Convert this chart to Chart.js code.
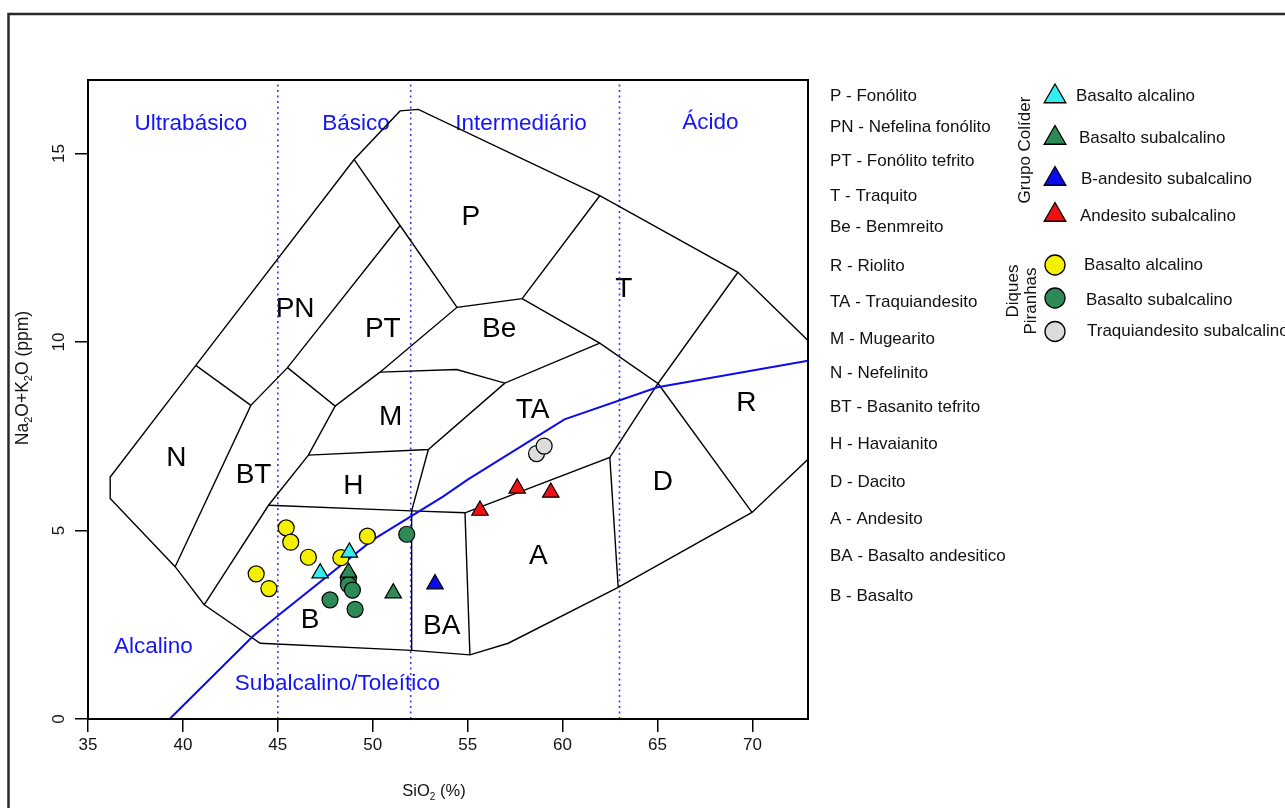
<!DOCTYPE html>
<html>
<head>
<meta charset="utf-8">
<script src="https://cdn.jsdelivr.net/npm/chart.js@4.4.0/dist/chart.umd.min.js"></script>
<style>
  html, body { margin: 0; padding: 0; background: #fff; }
  #wrap { position: relative; width: 1285px; height: 808px; overflow: hidden; }
</style>
</head>
<body>
<div id="wrap"><canvas id="tas"></canvas></div>
<script>
const FONT = '"Liberation Sans", Arial, Helvetica, sans-serif';

// axis ticks
const xTickValues = [35, 40, 45, 50, 55, 60, 65, 70];
const yTickValues = [0, 5, 10, 15];

// silica classes (dotted limits at 45, 52, 63 % SiO2)
const silicaLimits = [45, 52, 63];
const silicaClasses = ['Ultrabásico', 'Básico', 'Intermediário', 'Ácido'];

// rock fields (Cox et al.) - abbreviation, name
const fieldCodes = ['P', 'PN', 'PT', 'T', 'Be', 'R', 'TA', 'M', 'N', 'BT', 'H', 'D', 'A', 'BA', 'B'];
const fieldNames = ['Fonólito', 'Nefelina fonólito', 'Fonólito tefrito', 'Traquito', 'Benmreito', 'Riolito',
  'Traquiandesito', 'Mugearito', 'Nefelinito', 'Basanito tefrito', 'Havaianito', 'Dacito', 'Andesito',
  'Basalto andesitico', 'Basalto'];

// field boundaries, [SiO2, Na2O+K2O] vertices
const fieldLines = [
  [[40.68, 9.38], [36.17, 6.42], [36.17, 5.85], [39.59, 4.04], [41.12, 3.03], [44.07, 2.01], [52.05, 1.82],
   [55.12, 1.70], [57.14, 2.01], [62.93, 3.49], [69.98, 5.48], [72.93, 6.89]],
  [[40.68, 9.38], [49.02, 14.84], [51.44, 16.13], [52.40, 16.17], [61.96, 13.88], [69.24, 11.85], [72.93, 10.04]],
  [[49.02, 14.84], [51.44, 13.09], [54.44, 10.92]],
  [[51.44, 13.09], [45.51, 9.32], [43.58, 8.32], [39.59, 4.04]],
  [[40.68, 9.38], [43.58, 8.32]],
  [[45.51, 9.32], [48.02, 8.30], [50.38, 9.20], [54.44, 10.92], [57.87, 11.15], [61.96, 13.88]],
  [[57.87, 11.15], [61.96, 9.97], [65.03, 8.90], [69.24, 11.85]],
  [[50.38, 9.20], [54.42, 9.27], [56.96, 8.91], [61.96, 9.97]],
  [[48.02, 8.30], [46.61, 7.00], [44.51, 5.67], [41.12, 3.03]],
  [[46.61, 7.00], [52.93, 7.15], [56.96, 8.91]],
  [[52.93, 7.15], [52.05, 5.52], [52.05, 1.82]],
  [[44.51, 5.67], [52.05, 5.52], [54.86, 5.47], [55.12, 1.70]],
  [[54.86, 5.47], [62.49, 6.94], [65.03, 8.90]],
  [[62.49, 6.94], [62.93, 3.49]],
  [[65.03, 8.90], [69.98, 5.48]]
];

// alkaline / subalkaline divide
const alkalineLine = [[39.3, 0], [43.7, 2.2], [45.1, 2.78], [50, 4.75], [53.7, 5.9], [55, 6.35],
  [60.1, 7.95], [65, 8.8], [72.93, 9.5]];

// samples [SiO2, Na2O+K2O]
const colAlcalino = [[47.23, 3.87], [48.77, 4.42]];
const colSubalcalino = [[48.72, 3.89], [51.08, 3.34]];
const colBAndesito = [[53.28, 3.58]];
const colAndesito = [[55.65, 5.53], [57.61, 6.12], [59.38, 6.01]];
const dqAlcalino = [[43.86, 3.85], [44.53, 3.46], [45.44, 5.07], [45.68, 4.69], [46.61, 4.29], [48.32, 4.28], [49.72, 4.85]];
const dqSubalcalino = [[51.79, 4.90], [48.72, 3.73], [48.72, 3.56], [48.93, 3.42], [47.75, 3.16], [49.07, 2.91]];
const dqTraquiandesito = [[58.63, 7.04], [59.03, 7.24]];

const xMax = 72.93, yMax = 16.95;

const toXY = arr => arr.map(p => ({ x: p[0], y: p[1] }));

const groups = [
  { title: 'Grupo Colíder', items: [
    { label: 'Basalto alcalino', data: colAlcalino, shape: 'triangle', color: '#33eeee' },
    { label: 'Basalto subalcalino', data: colSubalcalino, shape: 'triangle', color: '#2e8b57' },
    { label: 'B-andesito subalcalino', data: colBAndesito, shape: 'triangle', color: '#0a0aee' },
    { label: 'Andesito subalcalino', data: colAndesito, shape: 'triangle', color: '#ee1111' }
  ]},
  { title: 'Diques Piranhas', items: [
    { label: 'Basalto alcalino', data: dqAlcalino, shape: 'circle', color: '#f5f000' },
    { label: 'Basalto subalcalino', data: dqSubalcalino, shape: 'circle', color: '#2e8b57' },
    { label: 'Traquiandesito subalcalino', data: dqTraquiandesito, shape: 'circle', color: '#dcdcdc' }
  ]}
];

const datasets = [];
groups.forEach(g => g.items.forEach(it => {
  datasets.push({
    data: toXY(it.data),
    showLine: false,
    pointStyle: it.shape,
    pointRadius: it.shape === 'triangle' ? 9.5 : 8,
    pointBackgroundColor: it.color,
    pointBorderColor: '#000',
    pointBorderWidth: 1.2,
    order: 0
  });
}));
fieldLines.forEach(l => datasets.push({
  data: toXY(l), showLine: true, pointRadius: 0, borderColor: '#000', borderWidth: 1.4, tension: 0, order: 5
}));
datasets.push({
  data: toXY(alkalineLine), showLine: true, pointRadius: 0, borderColor: '#0b0bf0', borderWidth: 2, order: 4
});
silicaLimits.forEach(v => datasets.push({
  data: [{ x: v, y: 0 }, { x: v, y: yMax }], showLine: true, pointRadius: 0,
  borderColor: '#3a3af5', borderWidth: 1.6, borderDash: [2, 3.5], order: 6
}));

// label anchors in data units
const fieldLabelPos = {
  P: [55.17, 13.30], PN: [45.91, 10.88], PT: [50.53, 10.33], T: [63.23, 11.41], Be: [56.66, 10.35],
  R: [69.68, 8.37], TA: [58.42, 8.19], M: [50.95, 8.00], N: [39.65, 6.91], BT: [43.72, 6.47],
  H: [48.98, 6.16], D: [65.29, 6.29], A: [58.72, 4.31], BA: [53.63, 2.45], B: [46.70, 2.63]
};
const silicaLabelPos = [[40.42, 15.78], [49.12, 15.78], [57.81, 15.78], [67.79, 15.82]];

function drawRich(ctx, parts, cx, cy, size, angle) {
  const sub = Math.round(size * 0.62);
  ctx.save();
  ctx.translate(cx, cy);
  ctx.rotate(angle);
  ctx.fillStyle = '#111';
  ctx.textAlign = 'left';
  ctx.textBaseline = 'alphabetic';
  let w = 0;
  parts.forEach(p => { ctx.font = (p.sub ? sub : size) + 'px ' + FONT; w += ctx.measureText(p.t).width; });
  let x = -w / 2;
  parts.forEach(p => {
    ctx.font = (p.sub ? sub : size) + 'px ' + FONT;
    ctx.fillText(p.t, x, size * 0.36 + (p.sub ? size * 0.22 : 0));
    x += ctx.measureText(p.t).width;
  });
  ctx.restore();
}

const decor = {
  id: 'decor',
  beforeDatasetsDraw(chart) {
    const { ctx, scales: { x, y } } = chart;
    ctx.save();
    ctx.fillStyle = '#000';
    ctx.textAlign = 'center';
    ctx.textBaseline = 'middle';
    ctx.font = '28px ' + FONT;
    fieldCodes.forEach(c => {
      const p = fieldLabelPos[c];
      ctx.fillText(c, x.getPixelForValue(p[0]), y.getPixelForValue(p[1]));
    });
    ctx.fillStyle = '#1414f5';
    ctx.font = '22.5px ' + FONT;
    silicaClasses.forEach((c, i) => {
      const p = silicaLabelPos[i];
      ctx.fillText(c, x.getPixelForValue(p[0]), y.getPixelForValue(p[1]));
    });
    ctx.fillText('Alcalino', x.getPixelForValue(38.45), y.getPixelForValue(1.92));
    ctx.fillText('Subalcalino/Toleítico', x.getPixelForValue(48.14), y.getPixelForValue(0.93));
    ctx.restore();
  },
  afterDraw(chart) {
    const { ctx, chartArea: a } = chart;
    ctx.save();
    // plot box
    ctx.strokeStyle = '#000';
    ctx.lineWidth = 2;
    ctx.strokeRect(a.left, a.top, a.right - a.left, a.bottom - a.top);
    // outer frame
    ctx.strokeStyle = '#2a2a2a';
    ctx.lineWidth = 2.5;
    ctx.beginPath();
    ctx.moveTo(8.5, 820);
    ctx.lineTo(8.5, 14);
    ctx.lineTo(1300, 14);
    ctx.stroke();

    drawRich(ctx, [{ t: 'Na' }, { t: '2', sub: true }, { t: 'O+K' }, { t: '2', sub: true }, { t: 'O (ppm)' }],
      22, 378, 17.5, -Math.PI / 2);
    drawRich(ctx, [{ t: 'SiO' }, { t: '2', sub: true }, { t: ' (%)' }], 434, 790, 16.5, 0);

    // field key
    ctx.fillStyle = '#111';
    ctx.font = '17px ' + FONT;
    ctx.textAlign = 'left';
    ctx.textBaseline = 'middle';
    const rows = [96, 127.5, 161.5, 196, 227, 266, 302, 339, 373.5, 407, 444, 482, 519, 556.5, 596];
    fieldCodes.forEach((c, i) => ctx.fillText(c + ' - ' + fieldNames[i], 830, rows[i]));

    // sample key
    const markY = [[96.5, 138, 179, 215], [265, 298, 331.5]];
    const textPos = [[[1076, 96.5], [1079, 138], [1081, 179], [1080, 216.5]],
                     [[1084, 265], [1086, 300], [1087, 331.5]]];
    groups.forEach((g, gi) => g.items.forEach((it, i) => {
      ctx.fillStyle = it.color;
      ctx.strokeStyle = '#000';
      ctx.lineWidth = 1.3;
      Chart.helpers.drawPoint(ctx, {
        pointStyle: it.shape, radius: it.shape === 'triangle' ? 12.5 : 10, borderWidth: 1.3, rotation: 0
      }, 1055, markY[gi][i]);
      ctx.fillStyle = '#111';
      ctx.fillText(it.label, textPos[gi][i][0], textPos[gi][i][1]);
    }));
    ctx.save();
    ctx.textAlign = 'center';
    ctx.translate(1025, 150);
    ctx.rotate(-Math.PI / 2);
    ctx.fillText(groups[0].title, 0, 0);
    ctx.restore();
    const [w1, w2] = groups[1].title.split(' ');
    ctx.save();
    ctx.textAlign = 'center';
    ctx.translate(1013, 291);
    ctx.rotate(-Math.PI / 2);
    ctx.fillText(w1, 0, 0);
    ctx.restore();
    ctx.save();
    ctx.textAlign = 'center';
    ctx.translate(1031, 301);
    ctx.rotate(-Math.PI / 2);
    ctx.fillText(w2, 0, 0);
    ctx.restore();
    ctx.restore();
  }
};

new Chart(document.getElementById('tas'), {
  type: 'scatter',
  data: { datasets },
  plugins: [decor],
  options: {
    responsive: true,
    maintainAspectRatio: false,
    animation: false,
    events: [],
    layout: { padding: { left: 0, top: 80, right: 477, bottom: 0 } },
    plugins: { legend: { display: false }, tooltip: { enabled: false } },
    scales: {
      x: {
        type: 'linear', min: 35, max: xMax,
        afterBuildTicks: s => { s.ticks = xTickValues.map(v => ({ value: v })); },
        afterFit: s => { s.height = 89; },
        ticks: { color: '#111', font: { family: FONT, size: 17 }, padding: 3, maxRotation: 0, autoSkip: false },
        grid: { drawOnChartArea: false, drawTicks: true, tickLength: 13, color: '#000', lineWidth: 1.5 },
        border: { display: true, color: '#000', width: 2 }
      },
      y: {
        type: 'linear', min: 0, max: yMax,
        afterBuildTicks: s => { s.ticks = yTickValues.map(v => ({ value: v })); },
        afterFit: s => { s.width = 88; },
        ticks: { color: '#111', font: { family: FONT, size: 17 }, padding: 6, minRotation: 90, maxRotation: 90,
          crossAlign: 'center', autoSkip: false },
        grid: { drawOnChartArea: false, drawTicks: true, tickLength: 13, color: '#000', lineWidth: 1.5 },
        border: { display: true, color: '#000', width: 2 }
      }
    }
  }
});
</script>
</body>
</html>
